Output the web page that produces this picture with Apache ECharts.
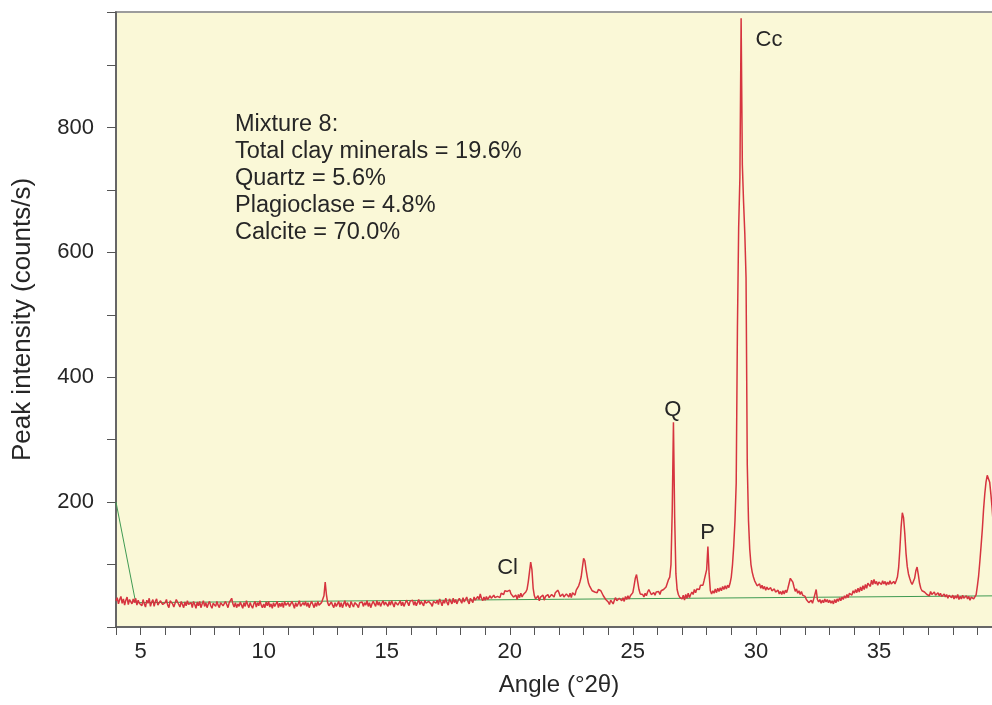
<!DOCTYPE html>
<html>
<head>
<meta charset="utf-8">
<script src="https://cdn.jsdelivr.net/npm/echarts@6/dist/echarts.min.js"></script>
<style>
html,body{margin:0;padding:0;background:#fff;}
#chart{width:992px;height:705px;}
</style>
</head>
<body>
<div id="chart"></div>
<script>
const ANGLE_START = 4;
const ANGLE_STEP = 0.05;
const counts = [
  // 4
  42,47,37,44,49,38,45,35,43,48,36,44,47,37,45,39,46,35,43,38,
  // 5
  41,34,44,37,32,43,38,46,33,40,44,33,41,45,35,32,42,45,36,33,
  // 6
  39,44,35,31,42,45,37,32,38,44,46,36,32,41,36,31,40,34,42,36,
  // 7
  33,39,31,41,36,30,40,34,41,31,37,42,33,39,31,37,41,34,30,38,
  // 8
  39,33,41,35,31,39,42,34,33,41,36,31,39,42,46,37,32,39,31,37,
  // 9
  33,40,35,30,39,33,42,36,31,39,34,30,37,41,32,39,34,42,35,31,
  // 10
  37,31,40,34,41,32,37,30,39,33,36,41,31,38,33,39,31,41,35,33,
  // 11
  39,33,31,41,36,30,39,33,37,42,33,31,39,35,41,33,39,31,37,41,
  // 12
  36,31,39,33,41,35,32,39,40,50,72,52,39,34,32,40,35,31,39,33,
  // 13
  36,41,32,39,31,37,42,33,39,35,31,41,36,32,39,42,35,31,39,36,
  // 14
  40,33,39,35,42,33,39,31,37,41,38,33,42,35,40,33,38,42,35,40,
  // 15
  38,33,41,35,42,37,32,40,43,35,38,42,34,40,33,38,43,39,34,41,
  // 16
  39,43,35,41,34,39,44,36,41,38,34,43,38,35,41,44,37,33,41,43,
  // 17
  38,43,36,45,40,34,43,38,46,39,35,45,41,37,46,39,44,37,42,46,
  // 18
  42,38,47,40,44,48,41,37,46,43,39,48,43,40,49,44,53,46,42,48,
  // 19
  43,49,44,41,50,46,43,51,47,44,49,52,47,54,56,52,58,61,57,55,
  // 20
  59,53,54,48,46,51,44,52,47,54,48,52,54,56,60,72,88,104,92,62,
  // 21
  50,45,43,50,42,48,45,51,43,49,46,52,47,44,52,53,48,55,54,59,
  // 22
  55,49,51,53,48,46,53,54,48,54,47,55,56,51,59,62,66,72,80,95,
  // 23
  110,106,92,80,70,65,62,58,60,56,58,55,60,62,58,54,50,47,44,42,
  // 24
  40,36,43,44,37,43,47,42,39,46,47,42,47,41,49,44,50,45,50,51,
  // 25
  55,66,78,84,72,60,53,50,52,48,54,50,56,60,58,52,49,55,51,56,
  // 26
  53,57,52,58,55,60,58,64,70,76,80,100,185,328,175,85,60,52,48,50,
  // 27
  45,51,43,52,46,54,47,52,56,52,60,55,61,64,60,67,70,67,75,78,
  // 28
  92,129,85,58,53,58,54,61,55,62,57,63,58,65,60,66,61,67,63,70,
  // 29
  80,100,130,170,230,480,640,720,975,740,680,630,560,260,170,125,100,88,80,74,
  // 30
  71,66,66,69,62,67,61,65,59,64,60,57,63,58,55,61,56,54,59,53,
  // 31
  57,52,58,53,59,55,62,70,78,81,72,64,57,61,54,58,52,57,51,50,
  // 32
  49,44,43,39,37,43,38,45,46,60,44,40,44,38,43,39,45,40,44,39,
  // 33
  43,38,42,37,44,39,45,41,47,42,48,44,50,46,52,47,54,56,51,58,
  // 34
  54,60,55,62,56,64,58,66,60,68,62,70,72,65,75,68,76,69,73,67,
  // 35
  72,75,68,74,69,73,67,72,68,74,69,66,73,69,74,80,95,125,160,183,
  // 36
  175,150,118,97,85,78,72,68,70,78,90,96,84,70,62,58,55,56,53,52,
  // 37
  55,50,57,52,49,56,51,48,55,50,54,49,47,53,48,52,46,51,54,47,
  // 38
  51,45,50,46,52,44,49,45,51,46,44,50,45,49,43,48,50,45,48,52,
  // 39
  66,82,105,130,156,188,213,232,243,245,232,212,190,160,130,105,90,80,72,66,
  // 40
  62
];

// fitted background line
const backgroundAngles = [4, 4.8, 40];
const backgroundCounts = [200, 39, 50];

// peak labels
const peakNames = ['Cc', 'Q', 'P', 'Cl'];
const peakLabelAngles = [30.53, 26.62, 28.04, 19.91];
const peakLabelCounts = [940, 347, 150, 94];

const xTickLabels = [5, 10, 15, 20, 25, 30, 35];
const yTickLabels = [200, 400, 600, 800];

const annotationLines = [
  'Mixture 8:',
  'Total clay minerals = 19.6%',
  'Quartz = 5.6%',
  'Plagioclase = 4.8%',
  'Calcite = 70.0%'
];

const FONT = "'Liberation Sans', Arial, Helvetica, sans-serif";
const TEXT_COLOR = '#262626';

const patternData = counts.map((c, i) => [+(ANGLE_START + i * ANGLE_STEP).toFixed(2), c]);
const backgroundData = backgroundAngles.map((a, i) => [a, backgroundCounts[i]]);
const labelData = peakNames.map((n, i) => [peakLabelAngles[i], peakLabelCounts[i], n]);

const chart = echarts.init(document.getElementById('chart'), null, {renderer: 'canvas'});
chart.setOption({
  animation: false,
  backgroundColor: '#ffffff',
  textStyle: {fontFamily: FONT},
  grid: {
    left: 116, top: 12, right: -10, bottom: 78,
    show: true,
    backgroundColor: '#FAF8D7',
    borderColor: '#9c9c9c',
    borderWidth: 2,
    outerBoundsMode: 'none',
    containLabel: false
  },
  xAxis: {
    type: 'value',
    min: 4, max: 40, interval: 1,
    name: 'Angle (°2θ)',
    nameLocation: 'middle',
    nameGap: 46,
    nameTextStyle: {fontSize: 24, color: TEXT_COLOR, fontFamily: FONT},
    axisLine: {show: true, onZero: false, lineStyle: {color: '#555', width: 1.5}},
    axisTick: {show: true, inside: false, length: 8, lineStyle: {color: '#555', width: 1}},
    splitLine: {show: false},
    axisLabel: {
      show: true, fontSize: 22, color: TEXT_COLOR, margin: 14, fontFamily: FONT,
      showMaxLabel: false,
      formatter: v => xTickLabels.includes(v) ? String(v) : ''
    }
  },
  yAxis: {
    type: 'value',
    min: 0, max: 985, interval: 100,
    name: 'Peak intensity (counts/s)',
    nameLocation: 'middle',
    nameGap: 80,
    nameTextStyle: {fontSize: 26, color: TEXT_COLOR, fontFamily: FONT},
    axisLine: {show: true, lineStyle: {color: '#555', width: 1.5}},
    axisTick: {show: true, inside: false, length: 9, lineStyle: {color: '#555', width: 1}},
    splitLine: {show: false},
    axisLabel: {
      show: true, fontSize: 22, color: TEXT_COLOR, margin: 22, fontFamily: FONT,
      formatter: v => yTickLabels.includes(v) ? String(v) : ''
    }
  },
  graphic: [{
    type: 'text',
    left: 235, top: 111,
    style: {
      text: annotationLines.join('\n'),
      font: '23.5px ' + FONT,
      fill: TEXT_COLOR,
      lineHeight: 27
    }
  }],
  series: [
    {
      name: 'background',
      type: 'line',
      data: backgroundData,
      showSymbol: false,
      symbol: 'none',
      lineStyle: {color: '#3f9a52', width: 1},
      z: 2
    },
    {
      name: 'pattern',
      type: 'line',
      data: patternData,
      showSymbol: false,
      symbol: 'none',
      lineStyle: {color: '#d6343f', width: 1.5},
      z: 3
    },
    {
      name: 'labels',
      type: 'scatter',
      data: labelData,
      symbolSize: 0,
      silent: true,
      itemStyle: {opacity: 1},
      label: {
        show: true,
        position: 'inside',
        formatter: p => p.value[2],
        fontSize: 22,
        color: TEXT_COLOR,
        opacity: 1,
        fontFamily: FONT
      },
      z: 4
    }
  ]
});
</script>
</body>
</html>
